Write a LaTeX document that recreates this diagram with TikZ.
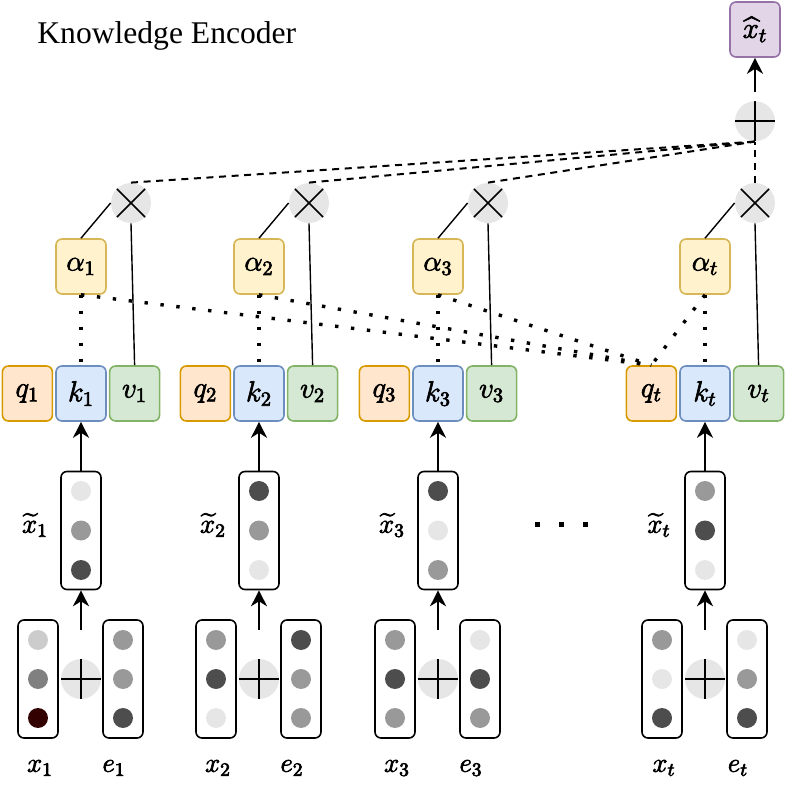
\RequirePackage{fix-cm}
\documentclass[tikz,border=0pt]{standalone}
\usepackage{amsmath, amssymb}
\usepackage{fontspec}
\newfontfamily\titlefont{Liberation Serif}
\usetikzlibrary{arrows.meta, positioning}

\definecolor{qfill}{HTML}{FFE6CC}
\definecolor{qline}{HTML}{D79B00}
\definecolor{kfill}{HTML}{DAE8FC}
\definecolor{kline}{HTML}{6C8EBF}
\definecolor{vfill}{HTML}{D5E8D4}
\definecolor{vline}{HTML}{82B366}
\definecolor{afill}{HTML}{FFF2CC}
\definecolor{aline}{HTML}{D6B656}
\definecolor{ofill}{HTML}{E1D5E7}
\definecolor{oline}{HTML}{9673A6}
\definecolor{dotL}{HTML}{E6E6E6}
\definecolor{dotS}{HTML}{CCCCCC}
\definecolor{dotM}{HTML}{999999}
\definecolor{dotG}{HTML}{808080}
\definecolor{dotD}{HTML}{4D4D4D}
\definecolor{dotR}{HTML}{330000}

% slightly heavier glyphs for the math labels
\newcommand\heavy[1]{\special{pdf:literal direct 2 Tr 0.35 w}#1\special{pdf:literal direct 0 Tr}}

\tikzset{
  cell/.style={rounded corners=3pt, line width=0.8pt, minimum width=25pt,
    minimum height=27.5pt, inner sep=0pt, font=\fontsize{14.5}{17}\selectfont},
  qcell/.style={cell, draw=qline, fill=qfill},
  kcell/.style={cell, draw=kline, fill=kfill},
  vcell/.style={cell, draw=vline, fill=vfill},
  acell/.style={cell, draw=aline, fill=afill},
  ocell/.style={cell, draw=oline, fill=ofill},
  vecbox/.style={draw, rounded corners=3pt, line width=0.8pt, minimum width=20pt,
    minimum height=59pt, inner sep=0pt},
  opnode/.style={circle, fill=dotL, minimum size=20pt, inner sep=0pt},
  timesop/.style={opnode, path picture={\draw[line width=0.8pt]
    (path picture bounding box.north west) -- (path picture bounding box.south east)
    (path picture bounding box.north east) -- (path picture bounding box.south west);}},
  plusop/.style={opnode, path picture={\draw[line width=0.9pt]
    (path picture bounding box.north) -- (path picture bounding box.south)
    (path picture bounding box.west) -- (path picture bounding box.east);}},
  lbl/.style={inner sep=1pt, font=\fontsize{13.5}{16}\selectfont},
  arrow/.style={-{Stealth[length=8pt, width=8pt, inset=2.5pt]}, line width=0.8pt},
  attn/.style={line width=1.7pt, dash pattern=on 1.7pt off 6.3pt},
  sumline/.style={line width=1pt, dash pattern=on 3.5pt off 2.8pt},
}

\begin{document}
\begin{tikzpicture}[x=0.5pt, y=-0.5pt]
    \useasboundingbox (0,0) rectangle (788,786);

    % Title
    \node[anchor=base west, inner sep=0pt, font=\titlefont\fontsize{15.8}{18}\selectfont]
        (title) at (37,43.5) {Knowledge Encoder};

    % One column per time step
    \foreach \col/\kx/\hA/\hB/\hC/\xA/\xB/\xC/\eA/\eB/\eC in {
        1/81/dotL/dotM/dotD/dotS/dotG/dotR/dotM/dotM/dotD,
        2/259/dotD/dotM/dotL/dotM/dotD/dotL/dotD/dotM/dotM,
        3/438/dotD/dotL/dotM/dotM/dotD/dotM/dotL/dotD/dotM,
        t/705/dotM/dotD/dotL/dotM/dotL/dotD/dotL/dotM/dotD} {
        % query, key, value
        \node[kcell] (k\col) at (\kx,393.5) {\heavy{$k_\col$}};
        \node[qcell, left=1pt of k\col] (q\col) {\heavy{$q_\col$}};
        \node[vcell, right=1pt of k\col] (v\col) {\heavy{$v_\col$}};
        \node[acell] (a\col) at (\kx,266.5) {\heavy{$\alpha_\col$}};
        \node[timesop] (m\col) at (\kx+50,203) {};

        % embedded input
        \node[vecbox] (h\col) at (\kx,530.5) {};
        \fill[\hA] (\kx,491) circle (5pt);
        \fill[\hB] (\kx,530.5) circle (5pt);
        \fill[\hC] (\kx,570) circle (5pt);
        \node[lbl] (hl\col) at (\kx-46,525) {\heavy{$\widetilde{x}_\col$}};

        % exercise and response
        \node[plusop] (s\col) at (\kx,679) {};
        \node[vecbox] (x\col) at (\kx-43,679) {};
        \fill[\xA] (\kx-43,640) circle (5pt);
        \fill[\xB] (\kx-43,679) circle (5pt);
        \fill[\xC] (\kx-43,718) circle (5pt);
        \node[vecbox] (e\col) at (\kx+42,679) {};
        \fill[\eA] (\kx+42,640) circle (5pt);
        \fill[\eB] (\kx+42,679) circle (5pt);
        \fill[\eC] (\kx+42,718) circle (5pt);
        \node[lbl] (xl\col) at (\kx-41,768) {\heavy{$x_\col$}};
        \node[lbl] (el\col) at (\kx+33,768) {\heavy{$e_\col$}};

        % connectors
        \draw[arrow] ([yshift=14.5pt]s\col.north) -- (h\col.south);
        \draw[arrow] (h\col.north) -- (k\col.south);
        \draw[line width=0.7pt] (v\col.north) -- (m\col.south);
        \draw[line width=0.7pt] (a\col.north) -- (m\col.west);
        \draw[attn] (a\col.south) -- (k\col.north);
    }

    % Gap between columns
    \foreach \d in {537,561,585}
        \fill (\d-2.5,521.5) rectangle +(5,5);

    % Weighted sum and output
    \node[plusop, above=20.5pt of mt] (sum) {};
    \node[ocell, above=21.5pt of sum] (out) {\heavy{$\widehat{x}_t$}};
    \draw[arrow] ([yshift=4.5pt]sum.north) -- (out.south);

    \foreach \col in {1,2,3,t} {
        \draw[attn] (a\col.south) -- (qt.north);
        \draw[sumline] (m\col.north) -- (sum.south);
    }
\end{tikzpicture}
\end{document}
